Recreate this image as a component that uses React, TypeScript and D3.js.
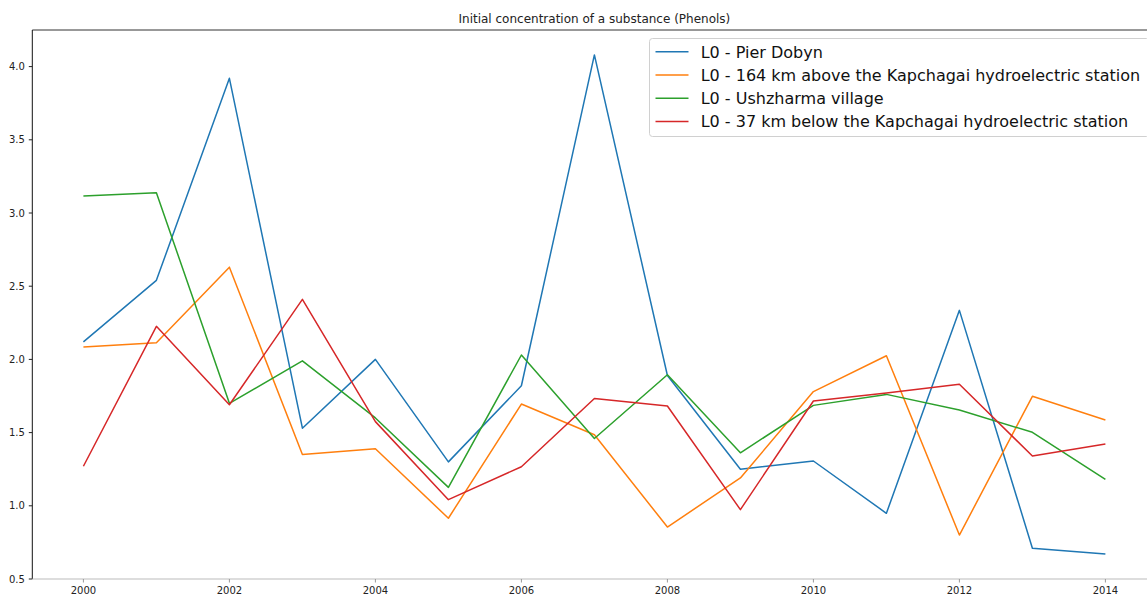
import React from "react";
import * as d3 from "d3";

const years = [2000, 2001, 2002, 2003, 2004, 2005, 2006, 2007, 2008, 2009, 2010, 2011, 2012, 2013, 2014];
const pierDobyn = [2.12, 2.54, 3.92, 1.53, 2.0, 1.3, 1.82, 4.08, 1.89, 1.25, 1.306, 0.949, 2.335, 0.71, 0.671];
const above164 = [2.085, 2.114, 2.63, 1.35, 1.39, 0.915, 1.695, 1.485, 0.855, 1.19, 1.78, 2.025, 0.8, 1.748, 1.586];
const ushzharma = [3.116, 3.139, 1.70, 1.99, 1.60, 1.126, 2.03, 1.46, 1.895, 1.362, 1.686, 1.761, 1.654, 1.502, 1.18];
const below37 = [1.27, 2.226, 1.69, 2.41, 1.575, 1.042, 1.267, 1.733, 1.682, 0.974, 1.716, 1.77, 1.83, 1.34, 1.422];
const seriesNames = [
  "L0 - Pier Dobyn",
  "L0 - 164 km above the Kapchagai hydroelectric station",
  "L0 - Ushzharma village",
  "L0 - 37 km below the Kapchagai hydroelectric station",
];
const seriesColors = ["#1f77b4", "#ff7f0e", "#2ca02c", "#d62728"];
const xTicks = [2000, 2002, 2004, 2006, 2008, 2010, 2012, 2014];
const yTicks = [0.5, 1.0, 1.5, 2.0, 2.5, 3.0, 3.5, 4.0];
const title = "Initial concentration of a substance (Phenols)";

export default function App() {
  const W = 1147;
  const H = 594;
  const left = 32.3;
  const top = 30;
  const right = 1156.5;
  const bottom = 579;
  const x = d3.scaleLinear().domain([1999.3, 2014.7]).range([left, right]);
  const y = d3.scaleLinear().domain([0.5, 4.25]).range([bottom, top]);
  const all = [pierDobyn, above164, ushzharma, below37];
  const line = d3
    .line<number>()
    .x((_, i) => x(years[i]))
    .y((d) => y(d));
  const font = "DejaVu Sans";
  const legX = 649.5;
  const legY = 38.5;
  const legW = 500;
  const legH = 98;
  return (
    <svg
      width={W}
      height={H}
      style={{ position: "absolute", left: 0, top: 0, background: "#fff" }}
      fontFamily={font}
    >
      <rect x={0} y={0} width={W} height={H} fill="#fff" />
      <text x={(left + right) / 2} y={23} textAnchor="middle" fontSize={12} fill="#222">
        {title}
      </text>
      {all.map((s, k) => (
        <path
          key={k}
          d={line(s) || ""}
          fill="none"
          stroke={seriesColors[k]}
          strokeWidth={1.5}
          strokeLinejoin="round"
        />
      ))}
      {/* spines */}
      <line x1={left} x2={right} y1={top} y2={top} stroke="#333" strokeWidth={1} />
      <line x1={left} x2={left} y1={top} y2={bottom} stroke="#111" strokeWidth={1} />
      <line x1={left} x2={right} y1={bottom} y2={bottom} stroke="#bbb" strokeWidth={1.2} />
      {/* x ticks */}
      {xTicks.map((t) => (
        <g key={t}>
          <line x1={x(t)} x2={x(t)} y1={bottom} y2={bottom + 3.5} stroke="#999" />
          <text x={x(t)} y={bottom + 14.5} textAnchor="middle" fontSize={10} fill="#222">
            {t}
          </text>
        </g>
      ))}
      {/* y ticks */}
      {yTicks.map((t) => (
        <g key={t}>
          <line x1={left - 3.5} x2={left} y1={y(t)} y2={y(t)} stroke="#222" />
          <text x={left - 7.5} y={y(t) + 3.5} textAnchor="end" fontSize={10} fill="#222">
            {t.toFixed(1)}
          </text>
        </g>
      ))}
      {/* legend */}
      <rect
        x={legX}
        y={legY}
        width={legW}
        height={legH}
        rx={3}
        fill="#fff"
        fillOpacity={0.8}
        stroke="#d0d0d0"
      />
      {seriesNames.map((n, k) => {
        const cy = 51.7 + k * 23.3;
        return (
          <g key={n}>
            <line x1={655.5} x2={688.5} y1={cy} y2={cy} stroke={seriesColors[k]} strokeWidth={1.5} />
            <text x={700.7} y={cy + 5.8} fontSize={16} fill="#111">
              {n}
            </text>
          </g>
        );
      })}
    </svg>
  );
}
